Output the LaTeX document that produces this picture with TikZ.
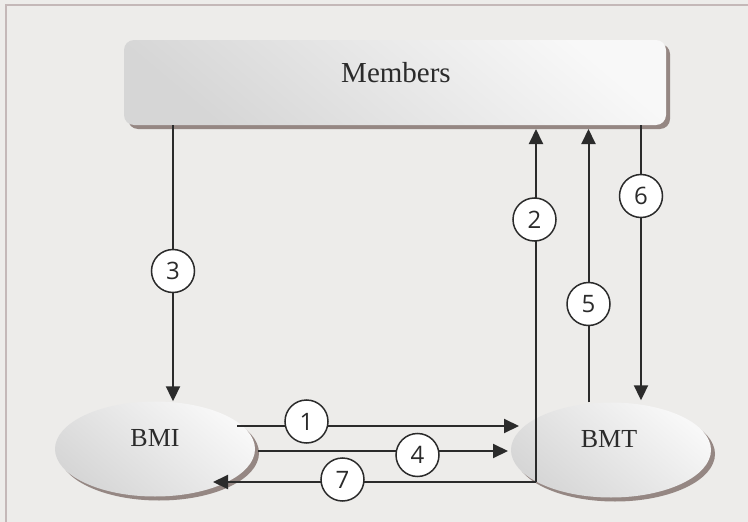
\documentclass[tikz,border=0pt]{standalone}
\usepackage{fontspec}
\setmainfont{Liberation Serif}
\newfontfamily\numfont{Open Sans}
\usetikzlibrary{arrows.meta,shadows,shapes.geometric}
\definecolor{bgc}{HTML}{EDECEA}
\definecolor{framec}{HTML}{C4B8B8}
\definecolor{shadowc}{HTML}{958783}
\definecolor{linec}{HTML}{2B2B2B}
\definecolor{lightc}{HTML}{F8F8F8}
\definecolor{darkc}{HTML}{D6D6D6}
\pgfdeclarelayer{front}
\pgfsetlayers{main,front}
\tikzset{
  shadowed/.style={drop shadow={shadow xshift=4pt,shadow yshift=-4pt,fill=shadowc,opacity=1}},
  boxstyle/.style={rectangle, rounded corners=10pt, minimum width=542pt, minimum height=85pt,
    inner sep=0pt, top color=lightc, bottom color=darkc, shading angle=-40, shadowed},
  ovalstyle/.style={ellipse, minimum width=200pt, minimum height=95pt, inner sep=0pt,
    top color=lightc, bottom color=darkc, shading angle=-40, shadowed},
  bigtext/.style={font=\fontsize{29}{34}\selectfont, text=linec, inner sep=0pt},
  lbl/.style={font=\fontsize{26}{30}\selectfont, text=linec, inner sep=0pt},
  num/.style={circle, draw=linec, line width=1.5pt, fill=white, minimum size=43pt,
    inner sep=0pt, font=\numfont\fontsize{24}{28}\selectfont, text=linec},
  conn/.style={draw=linec, line width=2pt},
  arr/.style={conn, -{Triangle[length=15pt,width=14pt]}},
}
\begin{document}
\begin{tikzpicture}[x=1pt,y=-1pt]
\useasboundingbox (0,0) rectangle (748,522);
\fill[bgc] (0,0) rectangle (748,522);
\draw[framec, line width=1.8pt] (6,522) -- (6,5) -- (748,5);

% main shapes
\node[boxstyle] (members) at (395,82.5) {};
\node[bigtext] (memberstext) at (396,73) {Members};
\node[ovalstyle] (bmi) at (155,449) {};
\node[lbl] (bmitext) at (155,438) {BMI};
\node[ovalstyle] (bmt) at (611,450) {};
\node[lbl] (bmttext) at (609,439) {BMT};

% step numbers
\begin{pgfonlayer}{front}
\node[num] (c1) at (306.5,421.5) {1};
\node[num] (c2) at (534.5,219.5) {2};
\node[num] (c3) at (173,271) {3};
\node[num] (c4) at (417.5,455) {4};
\node[num] (c5) at (588.5,304) {5};
\node[num] (c6) at (641,196) {6};
\node[num] (c7) at (342.5,479.5) {7};
\end{pgfonlayer}

% helper points
\coordinate (s1) at (237,426);
\coordinate (e1) at (519,426);
\coordinate (s4) at (258,451);
\coordinate (e4) at (508,451);
\coordinate (k) at (536,482);
\coordinate (e7) at (213,482);
\coordinate (top) at (0,129);

% connectors
\draw[arr] (s1) -- (e1);
\draw[arr] (k) -- (k |- top);
\draw[arr] (members.south -| c3) -- (c3 |- bmi.north);
\draw[arr] (s4) -- (e4);
\draw[arr] (c5 |- bmt.north) -- (c5 |- top);
\draw[arr] (members.south -| c6) -- ([yshift=2pt]c6 |- bmt.north);
\draw[arr] (k) -- (e7);
\end{tikzpicture}
\end{document}
